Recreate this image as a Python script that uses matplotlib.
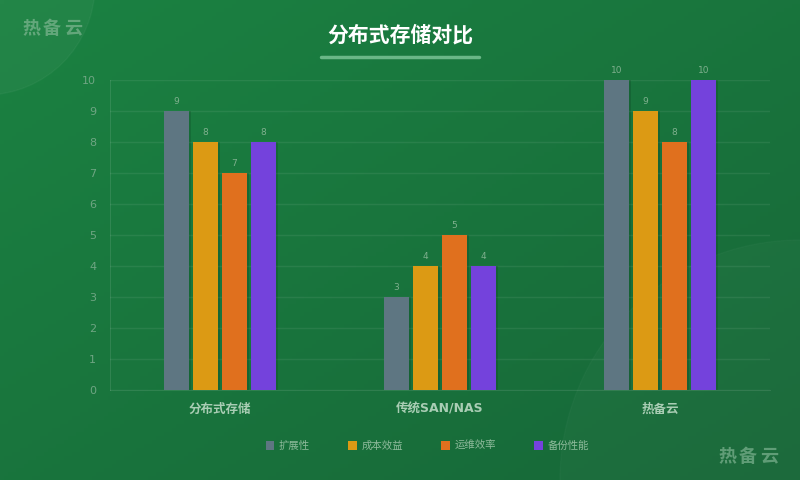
import numpy as np
import matplotlib.pyplot as plt
from matplotlib.patches import Patch, Circle

plt.rcParams['font.family'] = ['DejaVu Sans', 'Noto Sans CJK SC']

categories = ["分布式存储", "传统SAN/NAS", "热备云"]
series_names = ["扩展性", "成本效益", "运维效率", "备份性能"]
scalability = [9, 3, 10]
cost = [8, 4, 9]
ops = [7, 5, 8]
backup = [8, 4, 10]
colors = ["#5e7682", "#dc9a14", "#e0701e", "#7442dc"]

series = [scalability, cost, ops, backup]

fig = plt.figure(figsize=(8, 4.8), dpi=100)

# background gradient
bg = fig.add_axes([0, 0, 1, 1], zorder=-10)
gx, gy = np.meshgrid(np.linspace(0, 1, 200), np.linspace(0, 1, 120))
t = (gx + gy) / 2
c0 = np.array([0x1b, 0x82, 0x42]) / 255
c1 = np.array([0x17, 0x67, 0x38]) / 255
img = c0[None, None, :] * (1 - t[..., None]) + c1[None, None, :] * t[..., None]
bg.imshow(img, extent=[0, 800, 480, 0], aspect="auto")
bg.add_patch(Circle((-15, -15), 110, color="white", alpha=0.035))
bg.add_patch(Circle((800, 480), 240, color="white", alpha=0.025))
bg.set_xlim(0, 800)
bg.set_ylim(480, 0)
bg.axis("off")

# title + underline
bg.text(400, 35, "分布式存储对比", color="white", fontsize=15, fontweight="bold",
        family="Noto Sans CJK SC", ha="center", va="center")
bg.plot([321, 479], [57, 57], color="#7fc79a", lw=2.5, alpha=0.8, solid_capstyle="round")

# watermarks, letter-spaced
for cx, cy in [(52, 28), (748, 456)]:
    for k, ch in enumerate("热备云"):
        bg.text(cx + (k - 1) * 21, cy, ch, color="#8fbf9f", alpha=0.6, fontsize=13,
                fontweight="bold", family="Noto Sans CJK SC", ha="center", va="center")

ax = fig.add_axes([110 / 800, 90 / 480, 660 / 800, 310 / 480])
ax.patch.set_alpha(0)
x = np.arange(len(categories))
width = 25 / 220
step = 29 / 220
for i, (vals, col, name) in enumerate(zip(series, colors, series_names)):
    pos = x + (i - 1.5) * step
    # soft shadow
    ax.bar(pos + 0.008, vals, width, color="black", alpha=0.12, zorder=2)
    ax.bar(pos, vals, width, color=col, label=name, zorder=3)
    for p, v in zip(pos, vals):
        ax.text(p, v + 0.15, str(v), ha="center", va="bottom", fontsize=6.5,
                color="#7fb08e")

ax.set_xlim(-0.5, 2.5)
ax.set_ylim(0, 10)
ax.set_yticks(range(11))
ax.grid(axis="y", color="white", alpha=0.07, lw=1, zorder=0)
ax.set_xticks(x)
ax.set_xticklabels(categories, fontsize=9, fontweight="bold", color="#a9cdb4")
ax.tick_params(axis="x", length=0, pad=9)
ax.tick_params(axis="y", length=0, pad=10, labelsize=8, labelcolor="#6fa583")
for side in ["top", "right"]:
    ax.spines[side].set_visible(False)
for side in ["left", "bottom"]:
    ax.spines[side].set_color((1, 1, 1, 0.1))

handles = [Patch(facecolor=c, label=n) for c, n in zip(colors, series_names)]
leg = fig.legend(handles=handles, loc="center", bbox_to_anchor=(0.534, 1 - 446 / 480),
                 ncol=4, frameon=False, fontsize=7.5, handlelength=0.85, handleheight=0.85,
                 handletextpad=0.4, columnspacing=3.7)
for txt in leg.get_texts():
    txt.set_color("#8fbb9c")
    txt.set_family("Noto Sans CJK SC")

fig.savefig("out.png", dpi=100)
